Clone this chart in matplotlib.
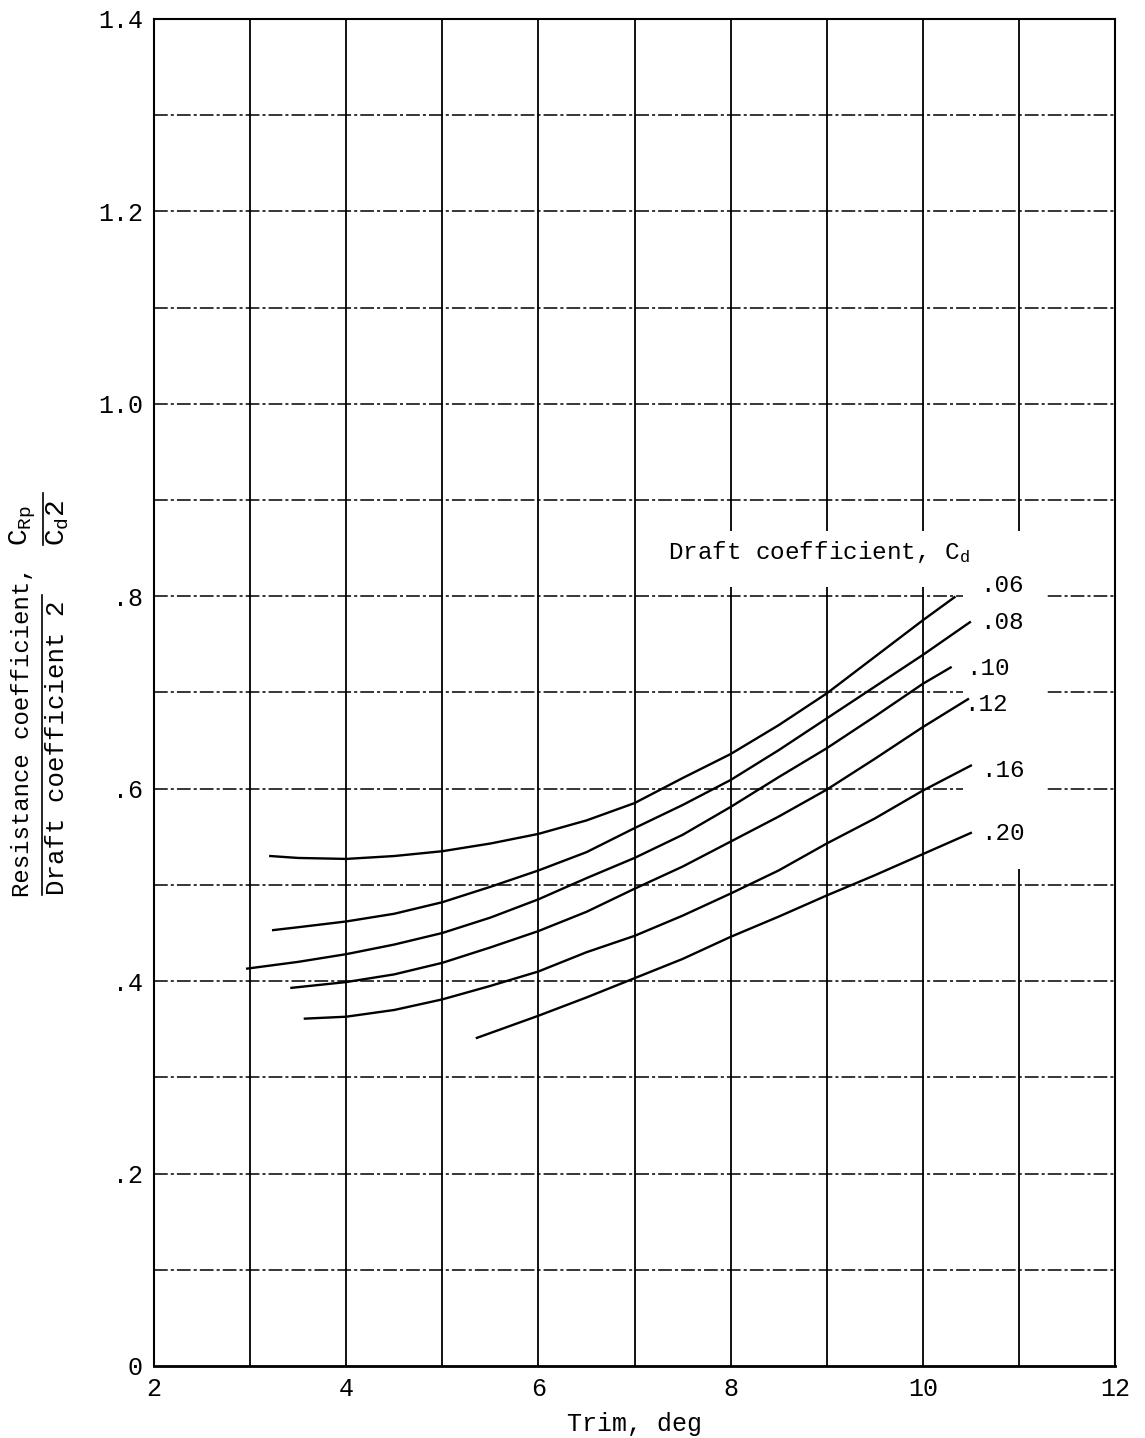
import numpy as np
import matplotlib
matplotlib.use('Agg')
import matplotlib.pyplot as plt
from matplotlib.lines import Line2D
from matplotlib.patches import Rectangle

plt.rcParams['font.family'] = ['Liberation Mono', 'DejaVu Sans Mono']
plt.rcParams['mathtext.fontset'] = 'custom'
plt.rcParams['mathtext.rm'] = 'Liberation Mono'
plt.rcParams['mathtext.it'] = 'Liberation Mono'

# curves, one per draft coefficient
trim_06 = [3.21, 3.5, 4, 4.5, 5, 5.5, 6, 6.5, 7, 7.5, 8, 8.5, 9, 9.5, 10, 10.33]
cr_06 = [0.530, 0.528, 0.527, 0.530, 0.535, 0.543, 0.553, 0.567, 0.585, 0.611,
         0.636, 0.666, 0.699, 0.737, 0.775, 0.799]
trim_08 = [3.24, 3.5, 4, 4.5, 5, 5.5, 6, 6.5, 7, 7.5, 8, 8.5, 9, 9.5, 10, 10.49]
cr_08 = [0.453, 0.456, 0.462, 0.470, 0.482, 0.498, 0.515, 0.534, 0.559, 0.583,
         0.609, 0.640, 0.673, 0.706, 0.739, 0.773]
trim_10 = [2.97, 3.5, 4, 4.5, 5, 5.5, 6, 6.5, 7, 7.5, 8, 8.5, 9, 9.5, 10, 10.29]
cr_10 = [0.413, 0.420, 0.428, 0.438, 0.450, 0.466, 0.485, 0.507, 0.528, 0.552,
         0.581, 0.612, 0.642, 0.675, 0.709, 0.726]
trim_12 = [3.43, 4, 4.5, 5, 5.5, 6, 6.5, 7, 7.5, 8, 8.5, 9, 9.5, 10, 10.47]
cr_12 = [0.393, 0.399, 0.407, 0.419, 0.435, 0.452, 0.472, 0.496, 0.519, 0.545,
         0.571, 0.599, 0.631, 0.664, 0.693]
trim_16 = [3.57, 4, 4.5, 5, 5.5, 6, 6.5, 7, 7.5, 8, 8.5, 9, 9.5, 10, 10.5]
cr_16 = [0.361, 0.363, 0.370, 0.381, 0.395, 0.410, 0.430, 0.447, 0.468, 0.491,
         0.515, 0.543, 0.569, 0.598, 0.624]
trim_20 = [5.36, 6, 6.5, 7, 7.5, 8, 8.5, 9, 9.5, 10, 10.5]
cr_20 = [0.341, 0.364, 0.383, 0.403, 0.423, 0.446, 0.467, 0.489, 0.510, 0.532,
         0.554]

curves = [(trim_06, cr_06), (trim_08, cr_08), (trim_10, cr_10),
          (trim_12, cr_12), (trim_16, cr_16), (trim_20, cr_20)]
curve_labels = ['.06', '.08', '.10', '.12', '.16', '.20']
label_x = [10.60, 10.60, 10.45, 10.43, 10.61, 10.61]
label_y = [0.811, 0.773, 0.725, 0.688, 0.619, 0.553]

x_ticks = [2, 4, 6, 8, 10, 12]
y_ticks = [0, 0.2, 0.4, 0.6, 0.8, 1.0, 1.2, 1.4]
y_ticklabels = ['0', '.2', '.4', '.6', '.8', '1.0', '1.2', '1.4']

fig = plt.figure(figsize=(11.45, 14.38), dpi=100)
ax = fig.add_axes([0.1345, 0.0501, 0.8393, 0.9367])
ax.set_xlim(2, 12)
ax.set_ylim(0, 1.4)

# grid: solid verticals, dash-dot horizontals
for xv in range(3, 12):
    ax.axvline(xv, color='black', lw=1.3, zorder=1)
for yv in np.arange(1, 14) / 10:
    ax.axhline(yv, color='black', lw=1.1, ls=(0, (9, 2, 2, 2)), zorder=1)

# blank areas behind the labels
ax.add_patch(Rectangle((7.2, 0.81), 4.09, 0.058, facecolor='white',
                       edgecolor='none', zorder=2))
ax.add_patch(Rectangle((10.42, 0.516), 0.87, 0.35, facecolor='white',
                       edgecolor='none', zorder=2))

for (tx, cy), lab, lx, ly in zip(curves, curve_labels, label_x, label_y):
    ax.plot(tx, cy, color='black', lw=1.7, zorder=3)
    ax.text(lx, ly, lab, fontsize=17.5, ha='left', va='center', zorder=4)

ax.text(7.35, 0.846, r'Draft coefficient, C$_\mathrm{d}$', fontsize=17.5,
        ha='left', va='center', zorder=4)

ax.set_xticks(x_ticks)
ax.set_xticklabels([str(v) for v in x_ticks])
ax.set_yticks(y_ticks)
ax.set_yticklabels(y_ticklabels)
ax.tick_params(length=0, labelsize=18, pad=8)
for sp in ax.spines.values():
    sp.set_linewidth(1.5)
ax.spines['bottom'].set_linewidth(2)
ax.set_xlabel('Trim, deg', fontsize=18, labelpad=8)

# y axis label drawn as a fraction
W, H = 1145, 1438
fig.text(23 / W, 1 - 897 / H, 'Resistance coefficient,', rotation=90,
         fontsize=17.3, ha='center', va='bottom')
fig.text(57 / W, 1 - 895 / H, 'Draft coefficient 2', rotation=90,
         fontsize=18.5, ha='center', va='bottom')
fig.add_artist(Line2D([41.5 / W, 41.5 / W], [1 - 895 / H, 1 - 595 / H],
                      color='black', lw=1.2))
fig.text(23 / W, 1 - 546 / H, r'C$_\mathrm{Rp}$', rotation=90,
         fontsize=20, ha='center', va='bottom')
fig.text(58 / W, 1 - 546 / H, r'C$_\mathrm{d}$2', rotation=90,
         fontsize=20, ha='center', va='bottom')
fig.add_artist(Line2D([42.5 / W, 42.5 / W], [1 - 545 / H, 1 - 493 / H],
                      color='black', lw=1.2))

fig.savefig('out.png', dpi=100)
